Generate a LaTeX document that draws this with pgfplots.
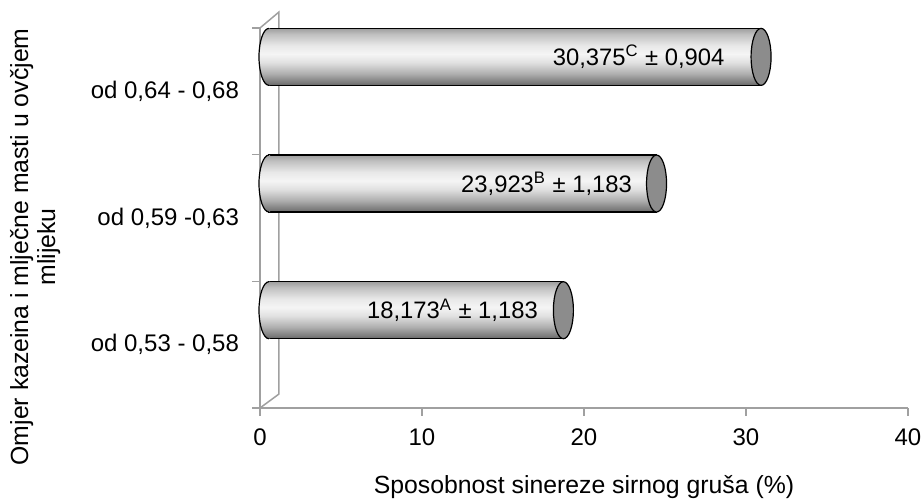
\documentclass[border=0pt]{standalone}
\usepackage{pgfplots}
\usepackage{pgfplotstable}
\pgfplotsset{compat=1.18}
\usepackage{fontspec}
\setmainfont{Liberation Sans}
\definecolor{axgray}{HTML}{A0A0A0}
\definecolor{capgray}{HTML}{8C8C8C}
\pgfdeclareverticalshading{cyl}{100bp}{%
  color(0bp)=(black!60); color(25bp)=(black!60);
  color(27.5bp)=(black!52); color(35bp)=(black!32);
  color(45bp)=(black!12); color(52.5bp)=(black!4);
  color(60bp)=(black!9); color(70bp)=(black!25);
  color(75bp)=(black!38); color(100bp)=(black!38)}
\pgfdeclareplotmark{capR}{%
  \pgfpathellipse{\pgfpointorigin}{\pgfqpoint{5pt}{0pt}}{\pgfqpoint{0pt}{14.25pt}}%
  \pgfusepathqfillstroke}
\pgfdeclareplotmark{capL}{%
  \pgfpathmoveto{\pgfqpoint{0.6pt}{14.25pt}}%
  \pgfpathlineto{\pgfqpoint{0pt}{14.25pt}}%
  \pgfpatharc{90}{270}{5pt and 14.25pt}%
  \pgfpathlineto{\pgfqpoint{0.6pt}{-14.25pt}}%
  \pgfpathclose
  \pgfshadepath{cyl}{0}%
  \pgfusepath{discard}%
  \pgfpathmoveto{\pgfqpoint{0pt}{14.25pt}}%
  \pgfpatharc{90}{270}{5pt and 14.25pt}%
  \pgfusepathqstroke}

\pgfplotstableread[col sep=semicolon]{
y;val;lab
0;18.173;{18,173\textsuperscript{A} ± 1,183}
1;23.923;{23,923\textsuperscript{B} ± 1,183}
2;30.375;{30,375\textsuperscript{C} ± 0,904}
}\datatable

\pgfplotsset{
  cylbar/.style={xbar, bar width=28.5pt, bar shift=0pt, xshift=4.5pt,
    draw=black, line width=0.6pt, shade, shading=cyl, shading angle=0,
    point meta=explicit symbolic,
    nodes near coords,
    every node near coord/.style={anchor=east, inner sep=0pt, xshift=#1,
      font=\fontsize{11.9}{13}\selectfont, text=black}},
}

\begin{document}
\begin{tikzpicture}[font=\fontsize{11}{13}\selectfont]
\begin{axis}[
  name=ax,
  scale only axis,
  width=324pt, height=190pt,
  xmin=0, xmax=40,
  ymin=-0.772, ymax=2.228,
  clip=false,
  axis lines*=left,
  axis line style={axgray, line width=0.75pt},
  tick style={axgray, line width=0.75pt},
  tick align=outside,
  major tick length=4pt,
  xtick={0,10,20,30,40},
  xticklabel style={yshift=-3pt},
  ytick={-0.772,0.228,1.228,2.228},
  yticklabels={},
  extra y ticks={-0.272,0.728,1.728},
  extra y tick labels={{od 0,53 - 0,58},{od 0,59 -0,63},{od 0,64 - 0,68}},
  extra y tick style={major tick length=0pt, yticklabel style={anchor=east, xshift=-7pt}},
  tick label style={font=\fontsize{12}{14}\selectfont},
  /pgf/number format/assume math mode=true,
  xlabel={Sposobnost sinereze sirnog gruša (\%)},
  xlabel style={at={(axis description cs:0.5,-0.208)}, anchor=center},
  ylabel={Omjer kazeina i mlječne masti u ovčjem\\mlijeku},
  ylabel style={at={(axis description cs:-0.347,0.424)}, anchor=center, align=center},
  label style={font=\fontsize{12.4}{13.5}\selectfont},
]
\draw[axgray, line width=0.75pt] (axis cs:0,-0.772) -- ++(9.5pt,7pt)
  -- ([xshift=9.5pt,yshift=8pt]axis cs:0,2.228) -- (axis cs:0,2.228);
\addplot[cylbar=-12.5pt] table[x=val, y=y, meta=lab,
  restrict expr to domain={\thisrow{y}}{-0.1:0.1}] {\datatable};
\addplot[cylbar=-12pt] table[x=val, y=y, meta=lab,
  restrict expr to domain={\thisrow{y}}{0.9:1.1}] {\datatable};
\addplot[cylbar=-18pt] table[x=val, y=y, meta=lab,
  restrict expr to domain={\thisrow{y}}{1.9:2.1}] {\datatable};
\addplot[only marks, mark=capL, xshift=4.5pt,
  mark options={draw=black, line width=0.6pt}]
  table[x expr=0, y=y] {\datatable};
\addplot[only marks, mark=capR, xshift=4.5pt,
  mark options={fill=capgray, draw=black, line width=0.6pt}]
  table[x=val, y=y] {\datatable};
\end{axis}
\pgfresetboundingbox
\path (ax.south west) ++(-130pt,-46.5pt) rectangle ++(460.5pt,250.5pt);
\end{tikzpicture}
\end{document}
